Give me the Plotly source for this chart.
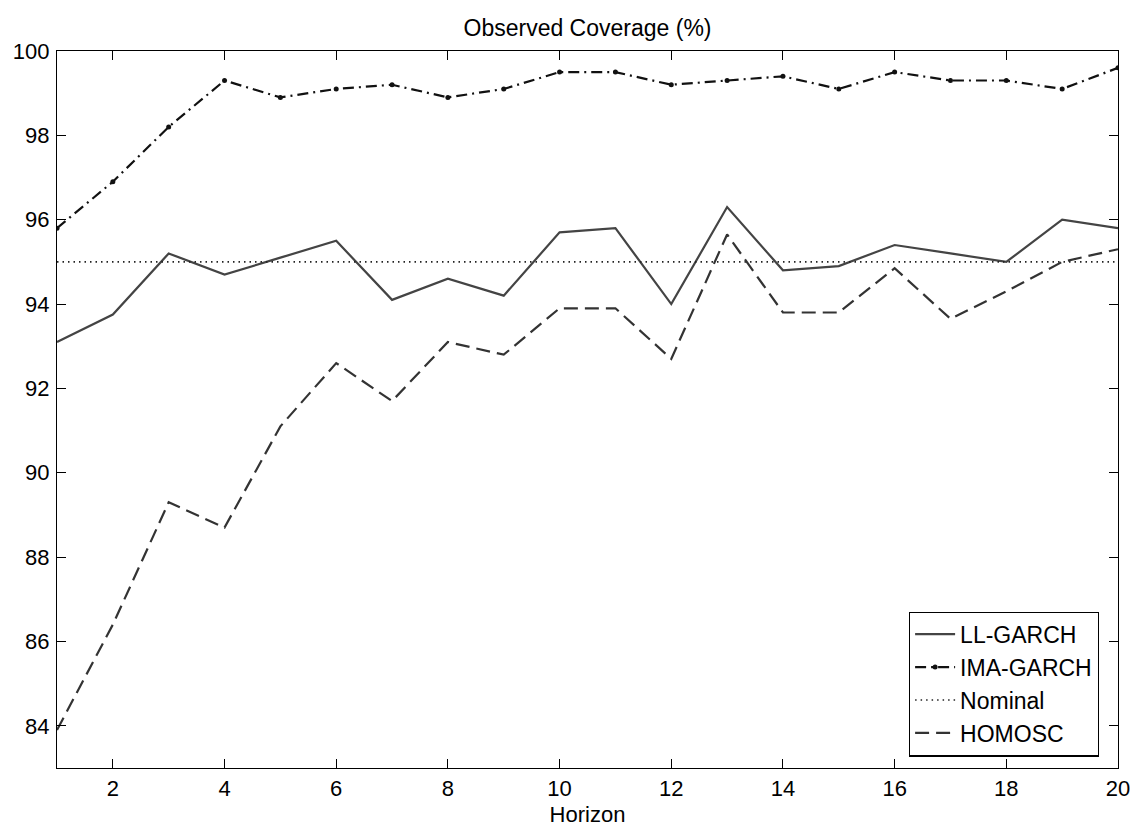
import plotly.graph_objects as go

horizon = list(range(1, 21))
ll_garch = [93.1, 93.75, 95.2, 94.7, 95.1, 95.5, 94.1, 94.6, 94.2, 95.7,
            95.8, 94.0, 96.3, 94.8, 94.9, 95.4, 95.2, 95.0, 96.0, 95.8]
ima_garch = [95.8, 96.9, 98.2, 99.3, 98.9, 99.1, 99.2, 98.9, 99.1, 99.5,
             99.5, 99.2, 99.3, 99.4, 99.1, 99.5, 99.3, 99.3, 99.1, 99.6]
nominal = [95, 95, 95, 95, 95, 95, 95, 95, 95, 95,
           95, 95, 95, 95, 95, 95, 95, 95, 95, 95]
homosc = [83.9, 86.4, 89.3, 88.7, 91.1, 92.6, 91.7, 93.1, 92.8, 93.9,
          93.9, 92.7, 95.65, 93.8, 93.8, 94.85, 93.65, 94.3, 95.0, 95.3]

x_ticks = [2, 4, 6, 8, 10, 12, 14, 16, 18, 20]
y_ticks = [84, 86, 88, 90, 92, 94, 96, 98, 100]

FONT = "Liberation Sans, Arial, Helvetica, sans-serif"

fig = go.Figure()
fig.add_trace(go.Scatter(x=horizon, y=ll_garch, mode="lines", name="LL-GARCH",
                         line=dict(color="#444444", width=2.2)))
fig.add_trace(go.Scatter(x=horizon, y=ima_garch, mode="lines+markers", name="IMA-GARCH",
                         line=dict(color="#111111", width=2.2, dash="11px,5px,2px,5px"),
                         marker=dict(color="#111111", size=5, symbol="circle")))
fig.add_trace(go.Scatter(x=horizon, y=nominal, mode="lines", name="Nominal",
                         line=dict(color="#222222", width=1.6, dash="1.5px,4px")))
fig.add_trace(go.Scatter(x=horizon, y=homosc, mode="lines", name="HOMOSC",
                         line=dict(color="#333333", width=2.2, dash="14px,7px")))

axis_common = dict(
    showgrid=False, zeroline=False, showline=True, linecolor="black", linewidth=1.2,
    mirror="ticks", ticks="inside", ticklen=9, tickwidth=1.2, tickcolor="black",
    tickfont=dict(family=FONT, size=22, color="black"),
)

fig.update_xaxes(range=[1, 20], tickvals=x_ticks, ticktext=[str(v) for v in x_ticks],
                 title=dict(text="Horizon", font=dict(family=FONT, size=22, color="black"), standoff=7),
                 ticklabelstandoff=0,
                 **axis_common)
fig.update_yaxes(range=[83, 100], tickvals=y_ticks, ticktext=[str(v) for v in y_ticks],
                 ticklabelstandoff=2,
                 **axis_common)

fig.update_layout(
    width=1137, height=828,
    margin=dict(l=57, r=19, t=51, b=60, autoexpand=False),
    paper_bgcolor="white", plot_bgcolor="white",
    font=dict(family=FONT, size=22, color="black"),
    title=dict(text="Observed Coverage (%)", x=0.5, xref="paper", xanchor="center",
               y=1 - 28 / 828, yref="container", yanchor="middle",
               font=dict(family=FONT, size=23, color="black")),
    legend=dict(x=0.982, y=0.016, xanchor="right", yanchor="bottom",
                bgcolor="white", bordercolor="black", borderwidth=1.2,
                font=dict(family=FONT, size=23, color="black"),
                tracegroupgap=0, itemwidth=40),
    showlegend=True,
)

fig.write_html("out.html")
